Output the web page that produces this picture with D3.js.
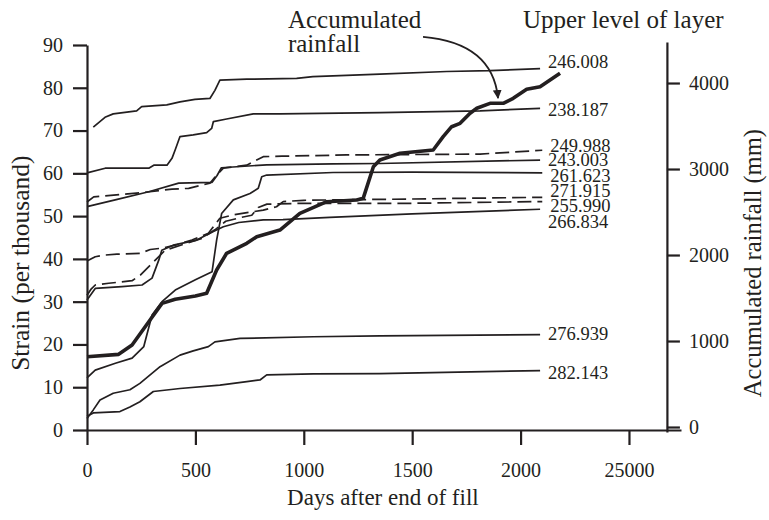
<!DOCTYPE html>
<html lang="en">
<head>
  <meta charset="UTF-8">
  <script src="https://d3js.org/d3.v7.min.js"></script>
  <title>Strain and rainfall</title>
  <style>
    body { margin: 0; background: #fff; }
    svg text { font-family: "Liberation Serif", "Times New Roman", serif; fill: #231f20; }
  </style>
</head>
<body>
  <script>
    const w = 769;
    const h = 520;

    // ticks
    const xTicks = [0, 500, 1000, 1500, 2000, 2500];
    const xTickLabels = ["0", "500", "1000", "1500", "2000", "25000"];
    const yTicks = [0, 10, 20, 30, 40, 50, 60, 70, 80, 90];
    const rainTicks = [0, 1000, 2000, 3000, 4000];

    // strain curves, [day, strain per thousand], named by upper level of layer
    const c246008 = [[29, 70.8], [83, 73.1], [121, 73.9], [229, 74.6], [252, 75.6], [368, 76.0], [429, 76.7], [498, 77.3], [567, 77.5], [590, 79.4], [613, 81.8], [737, 82.0], [967, 82.2], [1042, 82.6], [1351, 83.2], [1659, 83.8], [1859, 84.0], [2090, 84.5]];
    const c238187 = [[0, 60.1], [84, 61.2], [285, 61.2], [308, 61.9], [369, 61.9], [392, 63.5], [407, 65.5], [429, 68.6], [490, 69.0], [552, 69.5], [575, 70.5], [583, 72.1], [644, 72.7], [767, 73.9], [890, 73.9], [1351, 74.2], [1813, 74.6], [2090, 75.2]];
    const c249988 = [[0, 53.3], [31, 54.5], [254, 55.5], [392, 56.3], [469, 56.5], [567, 57.7], [598, 59.6], [629, 61.2], [737, 61.9], [813, 63.9], [900, 64.0], [1197, 64.3], [1813, 64.5], [2100, 65.4]];
    const c243003 = [[0, 52.2], [130, 53.8], [285, 55.7], [423, 57.7], [577, 57.9], [600, 59.5], [620, 61.3], [829, 62.0], [1135, 62.2], [1351, 62.3], [2090, 63.1]];
    const c261623 = [[0, 12.2], [38, 14.0], [131, 15.6], [208, 16.8], [262, 19.5], [300, 26.9], [346, 30.0], [407, 32.7], [500, 35.1], [577, 37.0], [598, 44.4], [621, 50.6], [675, 53.8], [752, 55.3], [790, 56.5], [806, 59.2], [829, 59.6], [1135, 60.2], [1500, 60.3], [2100, 60.1]];
    const c271915 = [[0, 39.5], [38, 40.5], [84, 40.9], [138, 41.1], [245, 41.3], [292, 42.2], [346, 42.5], [407, 43.2], [484, 44.4], [560, 46.0], [613, 49.5], [675, 50.3], [813, 51.4], [874, 52.2], [905, 53.4], [1000, 53.7], [1500, 54.0], [2100, 54.4]];
    const c255990 = [[0, 31.5], [20, 33.0], [38, 33.9], [100, 34.3], [208, 34.9], [246, 36.2], [315, 39.7], [360, 42.0], [450, 43.5], [530, 44.8], [590, 46.8], [640, 48.8], [720, 49.8], [760, 50.2], [790, 52.0], [830, 52.8], [1000, 53.0], [1500, 53.0], [2100, 53.4]];
    const c266834 = [[0, 30.4], [38, 33.1], [161, 33.5], [254, 33.9], [300, 35.5], [331, 39.7], [345, 42.0], [398, 43.2], [506, 44.4], [583, 46.4], [629, 47.5], [700, 48.5], [813, 49.1], [904, 49.2], [1120, 49.7], [1500, 50.5], [2090, 51.6]];
    const c276939 = [[0, 2.7], [29, 4.7], [60, 7.0], [121, 8.6], [198, 9.4], [244, 10.9], [337, 14.8], [429, 17.5], [490, 18.5], [560, 19.5], [590, 20.6], [706, 21.4], [1044, 21.8], [1351, 22.0], [2090, 22.3]];
    const c282143 = [[0, 3.2], [29, 4.0], [152, 4.3], [198, 5.4], [244, 6.6], [306, 9.0], [429, 9.7], [613, 10.5], [737, 11.3], [798, 11.7], [829, 12.9], [1044, 13.1], [1351, 13.2], [2090, 13.9]];

    // accumulated rainfall, [day, mm]
    const rainfall = [[0, 817], [146, 845], [208, 953], [285, 1224], [346, 1438], [407, 1485], [500, 1523], [552, 1555], [598, 1826], [644, 2020], [737, 2136], [783, 2213], [890, 2290], [982, 2485], [1106, 2620], [1244, 2640], [1274, 2659], [1321, 3027], [1351, 3105], [1444, 3183], [1597, 3221], [1643, 3376], [1682, 3492], [1721, 3531], [1767, 3648], [1798, 3706], [1859, 3764], [1920, 3764], [1966, 3822], [2028, 3927], [2090, 3957], [2182, 4113]];

    const curves = [c246008, c238187, c249988, c243003, c261623, c271915, c255990, c266834, c276939, c282143];
    const curveNames = ["246.008", "238.187", "249.988", "243.003", "261.623", "271.915", "255.990", "266.834", "276.939", "282.143"];
    const curveDashed = [false, false, true, false, false, true, true, false, false, false];
    const labelAt = [86.1, 75.0, 66.6, 63.3, 59.6, 55.9, 52.4, 48.7, 22.6, 13.4];   // strain level of each end label

    const svg = d3.select("body").append("svg")
      .attr("width", w)
      .attr("height", h);

    const x = d3.scaleLinear().domain([0, 2740]).range([87, 681]);
    const y = d3.scaleLinear().domain([0, 90]).range([430, 45]);
    const yR = d3.scaleLinear().domain([-58, 4477]).range([432, 42]);
    const rightAt = 2675;   // day where the rainfall axis stands

    const line = d3.line()
      .x(function (d) { return x(d[0]); })
      .y(function (d) { return y(d[1]); });
    const rainLine = d3.line()
      .x(function (d) { return x(d[0]); })
      .y(function (d) { return yR(d[1]); });

    function styleAxis(g) {
      g.selectAll("path, line").attr("stroke", "#231f20").attr("stroke-width", 2.2);
      g.selectAll("text").attr("font-size", 20).attr("fill", "#231f20")
        .attr("font-family", "Liberation Serif, serif");
    }

    // x axis
    svg.append("g")
      .attr("transform", "translate(0," + y(0) + ")")
      .call(d3.axisBottom(x).tickValues(xTicks).tickSize(15).tickSizeOuter(0).tickPadding(18)
        .tickFormat(function (d, i) { return xTickLabels[i]; }))
      .call(styleAxis);

    // left axis
    svg.append("g")
      .attr("transform", "translate(" + x(0) + ",0)")
      .call(d3.axisLeft(y).tickValues(yTicks).tickSize(14).tickSizeOuter(0).tickPadding(10))
      .call(styleAxis);

    // right axis
    svg.append("g")
      .attr("transform", "translate(" + x(rightAt) + ",0)")
      .call(d3.axisRight(yR).tickValues(rainTicks).tickSize(13).tickSizeOuter(0).tickPadding(9)
        .tickFormat(d3.format("d")))
      .call(styleAxis);

    // strain curves
    svg.selectAll(".strain")
      .data(curves)
      .enter()
      .append("path")
      .attr("class", "strain")
      .attr("d", line)
      .attr("fill", "none")
      .attr("stroke", "#231f20")
      .attr("stroke-width", 1.7)
      .attr("stroke-linejoin", "round")
      .attr("stroke-dasharray", function (d, i) { return curveDashed[i] ? "14,6" : null; });

    // rainfall
    svg.append("path")
      .datum(rainfall)
      .attr("d", rainLine)
      .attr("fill", "none")
      .attr("stroke", "#231f20")
      .attr("stroke-width", 3.6)
      .attr("stroke-linejoin", "round");

    // end labels
    svg.selectAll(".endlabel")
      .data(curveNames)
      .enter()
      .append("text")
      .attr("class", "endlabel")
      .text(function (d) { return d; })
      .attr("x", function (d, i) { return x(curves[i][curves[i].length - 1][0]) + 8; })
      .attr("y", function (d, i) { return y(labelAt[i]); })
      .attr("dy", "0.35em")
      .attr("font-size", 18.5);

    // axis titles
    svg.append("text")
      .text("Strain (per thousand)")
      .attr("transform", "translate(29," + y(39) + ") rotate(-90)")
      .attr("text-anchor", "middle")
      .attr("font-size", 25.5);
    svg.append("text")
      .text("Accumulated rainfall (mm)")
      .attr("transform", "translate(761," + y(39) + ") rotate(-90)")
      .attr("text-anchor", "middle")
      .attr("font-size", 24.5);
    svg.append("text")
      .text("Days after end of fill")
      .attr("x", x(1365))
      .attr("y", 505)
      .attr("text-anchor", "middle")
      .attr("font-size", 23);

    // annotations
    svg.append("text").text("Accumulated")
      .attr("x", x(927)).attr("y", y(94)).attr("font-size", 25);
    svg.append("text").text("rainfall")
      .attr("x", x(927)).attr("y", y(88.4)).attr("font-size", 25);
    svg.append("text").text("Upper level of layer")
      .attr("x", x(2011)).attr("y", y(94)).attr("font-size", 25);

    // arrow from the rainfall note to the curve
    const arrowFrom = [1550, 91.9];
    const arrowBend = [1870, 90.5];
    const arrowTo = [1896, 77.6];
    svg.append("defs").append("marker")
      .attr("id", "head")
      .attr("viewBox", "0 0 10 10")
      .attr("refX", 9).attr("refY", 5)
      .attr("markerWidth", 5).attr("markerHeight", 5)
      .attr("orient", "auto")
      .append("path")
      .attr("d", "M0,0L10,5L0,10z")
      .attr("fill", "#231f20");
    const p = d3.path();
    p.moveTo(x(arrowFrom[0]), y(arrowFrom[1]));
    p.quadraticCurveTo(x(arrowBend[0]), y(arrowBend[1]), x(arrowTo[0]), y(arrowTo[1]));
    svg.append("path")
      .attr("d", p.toString())
      .attr("fill", "none")
      .attr("stroke", "#231f20")
      .attr("stroke-width", 1.8)
      .attr("marker-end", "url(#head)");
  </script>
</body>
</html>
